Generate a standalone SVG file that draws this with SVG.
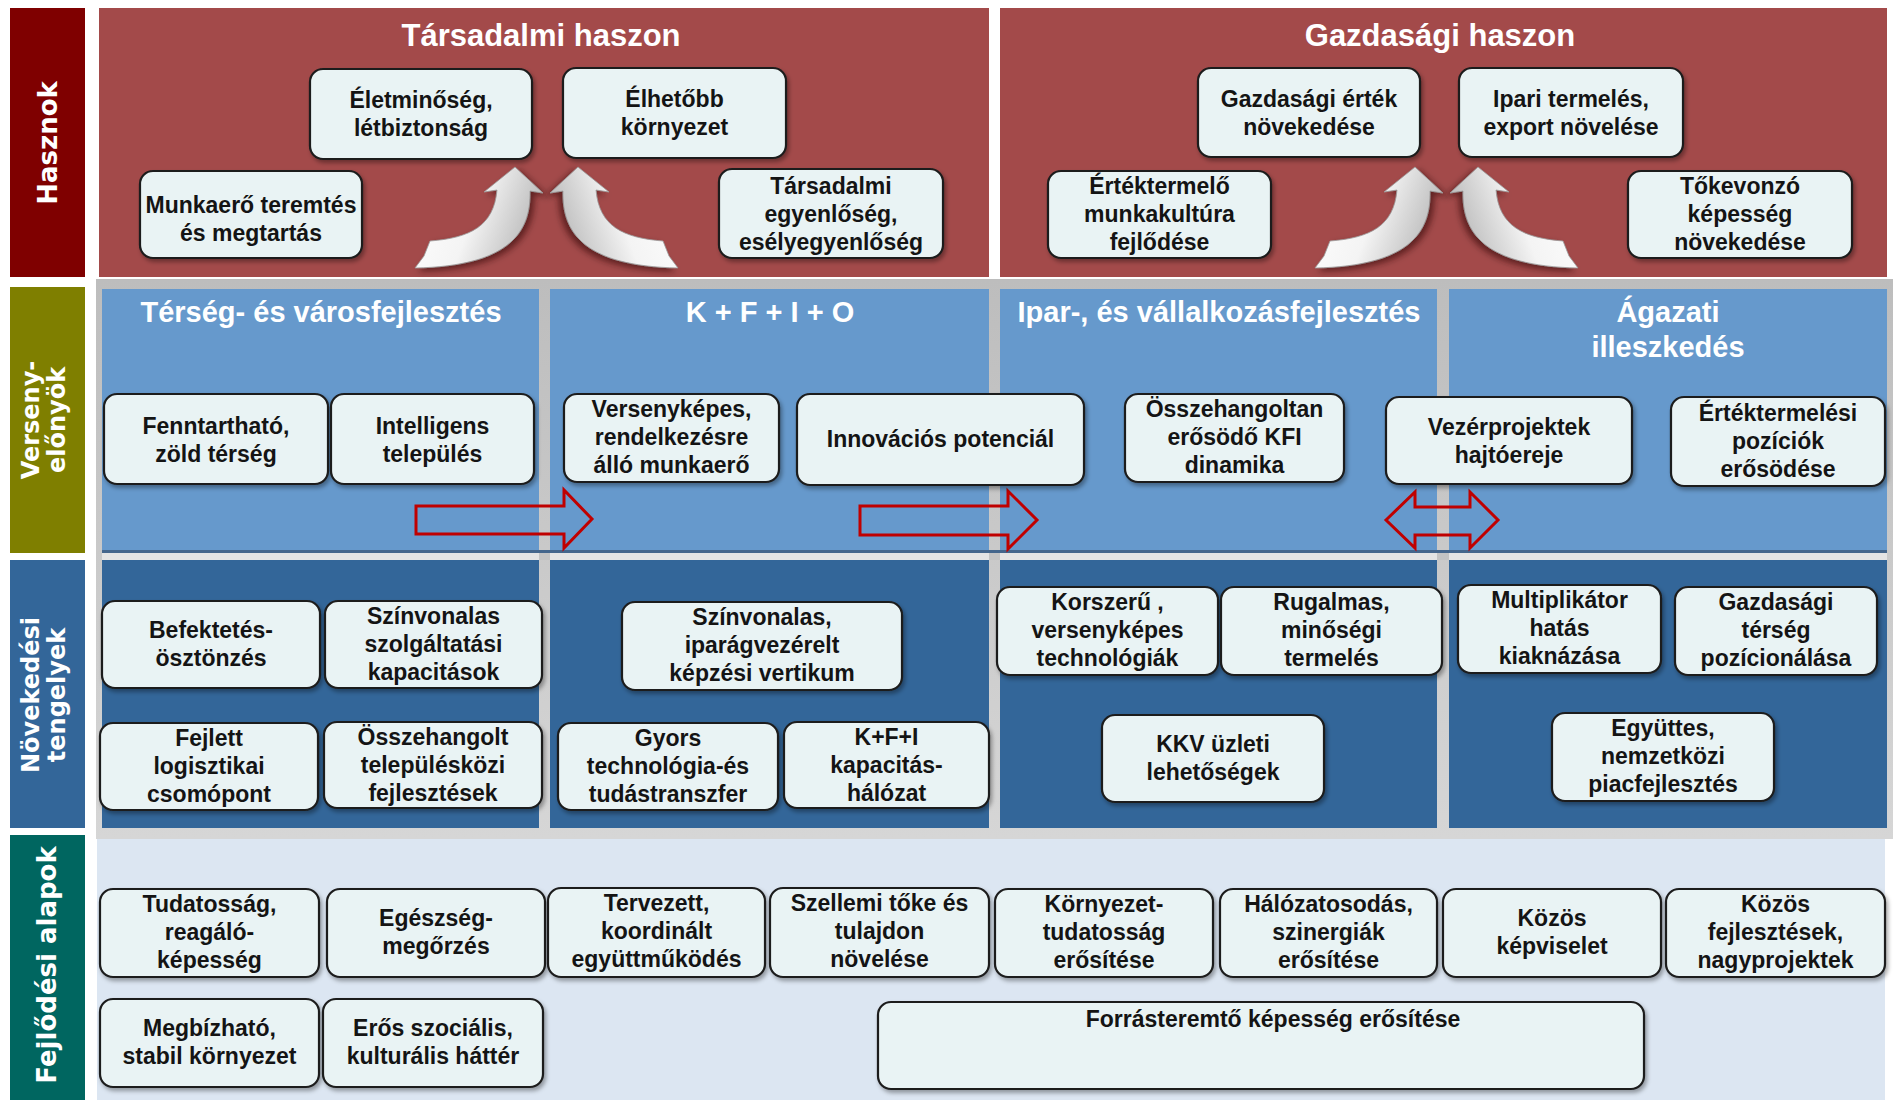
<svg xmlns="http://www.w3.org/2000/svg" width="1896" height="1100" viewBox="0 0 1896 1100">
<defs>
<style>
.lab{font-family:"DejaVu Sans",sans-serif;font-weight:bold;fill:#fff;}
.ttl{font-family:"Liberation Sans",Arial,sans-serif;font-weight:bold;fill:#fff;text-anchor:middle;}
.nt{font-family:"Liberation Sans",Arial,sans-serif;font-weight:bold;font-size:23px;fill:#141414;text-anchor:middle;}
.box{fill:#E9F3F4;stroke:#1c1c1c;stroke-width:2.2;filter:url(#sh);}
.blk{fill:none;stroke:#C00000;stroke-width:3;stroke-linejoin:miter;}
.carr{fill:url(#ag);stroke:#9a9a9a;stroke-width:0.8;filter:url(#ash);}
</style>
<filter id="sh" x="-10%" y="-10%" width="130%" height="140%">
<feDropShadow dx="2" dy="3" stdDeviation="2" flood-color="#000" flood-opacity="0.35"/>
</filter>
<filter id="ash" x="-30%" y="-30%" width="160%" height="160%">
<feDropShadow dx="4" dy="3" stdDeviation="3" flood-color="#2a0000" flood-opacity="0.55"/>
</filter>
<linearGradient id="ag" x1="0" y1="0" x2="1" y2="0.3">
<stop offset="0" stop-color="#ffffff"/>
<stop offset="0.55" stop-color="#f4f4f4"/>
<stop offset="1" stop-color="#bdbdbd"/>
</linearGradient>
<linearGradient id="topsh" x1="0" y1="0" x2="0" y2="1">
<stop offset="0" stop-color="#bdbdbd"/>
<stop offset="1" stop-color="#d6d6d6"/>
</linearGradient>
</defs>

<g id="backgrounds">
<rect x="99" y="8" width="890" height="269" fill="#A34A4A"/>
<rect x="1000" y="8" width="887" height="269" fill="#A34A4A"/>
<rect x="96" y="279" width="1797" height="560" fill="url(#topsh)"/>
<rect x="102" y="289" width="437" height="264" fill="#6699CC"/>
<rect x="550" y="289" width="439" height="264" fill="#6699CC"/>
<rect x="1000" y="289" width="437" height="264" fill="#6699CC"/>
<rect x="1449" y="289" width="438" height="264" fill="#6699CC"/>
<rect x="102" y="550" width="1785" height="3" fill="#44668C"/>
<rect x="102" y="553" width="1785" height="7" fill="#E4E4E4"/>
<rect x="539" y="553" width="11" height="7" fill="#C4C4C4"/>
<rect x="989" y="553" width="11" height="7" fill="#C4C4C4"/>
<rect x="1437" y="553" width="12" height="7" fill="#C4C4C4"/>
<rect x="102" y="560" width="437" height="268" fill="#336699"/>
<rect x="550" y="560" width="439" height="268" fill="#336699"/>
<rect x="1000" y="560" width="437" height="268" fill="#336699"/>
<rect x="1449" y="560" width="438" height="268" fill="#336699"/>
<rect x="97" y="839" width="1788" height="261" fill="#DCE6F2"/>
</g>

<g id="label-hasznok">
<rect x="10" y="8" width="75" height="269" fill="#7F0000"/>
<text class="lab" font-size="26" text-anchor="middle" transform="translate(57,143) rotate(-90)">Hasznok</text>
</g>
<g id="label-verseny">
<rect x="10" y="287" width="75" height="266" fill="#7F7F00"/>
<text class="lab" font-size="24" text-anchor="middle" transform="translate(39,420) rotate(-90)">Verseny-</text>
<text class="lab" font-size="24" text-anchor="middle" transform="translate(65,420) rotate(-90)">előnyök</text>
</g>
<g id="label-novekedesi">
<rect x="10" y="560" width="75" height="268" fill="#336699"/>
<text class="lab" font-size="24" text-anchor="middle" transform="translate(39,695) rotate(-90)">Növekedési</text>
<text class="lab" font-size="24" text-anchor="middle" transform="translate(65,695) rotate(-90)">tengelyek</text>
</g>
<g id="label-fejlodesi">
<rect x="10" y="835" width="75" height="265" fill="#006660"/>
<text class="lab" font-size="26" text-anchor="middle" transform="translate(56,965) rotate(-90)">Fejlődési alapok</text>
</g>

<g id="titles">
<text class="ttl" font-size="31" x="541" y="46">Társadalmi haszon</text>
<text class="ttl" font-size="31" x="1440" y="46">Gazdasági haszon</text>
<text class="ttl" font-size="29" x="321" y="322">Térség- és városfejlesztés</text>
<text class="ttl" font-size="29" x="770" y="322">K + F + I + O</text>
<text class="ttl" font-size="29" x="1219" y="322">Ipar-, és vállalkozásfejlesztés</text>
<text class="ttl" font-size="29" x="1668" y="322">Ágazati</text>
<text class="ttl" font-size="29" x="1668" y="357">illeszkedés</text>
</g>

<g id="connectors">
<path class="carr" d="M515,167 L543,193 L530,191 C531,232 510,266 415,268 L424,256 L430,241 C470,238 494,226 497,190 L484,192 Z"/>
<path class="carr" transform="matrix(-1,0,0,1,1093,0)" d="M515,167 L543,193 L530,191 C531,232 510,266 415,268 L424,256 L430,241 C470,238 494,226 497,190 L484,192 Z"/>
<path class="carr" transform="translate(900,0)" d="M515,167 L543,193 L530,191 C531,232 510,266 415,268 L424,256 L430,241 C470,238 494,226 497,190 L484,192 Z"/>
<path class="carr" transform="matrix(-1,0,0,1,1993,0)" d="M515,167 L543,193 L530,191 C531,232 510,266 415,268 L424,256 L430,241 C470,238 494,226 497,190 L484,192 Z"/>
<path class="blk" d="M416,506 L564,506 L564,490 L592,519 L564,548 L564,534 L416,534 Z"/>
<path class="blk" d="M860,506 L1008,506 L1008,491 L1037,520 L1008,549 L1008,535 L860,535 Z"/>
<path class="blk" d="M1386,520 L1415,492 L1415,507 L1470,507 L1470,492 L1498,520 L1470,548 L1470,535 L1415,535 L1415,548 Z"/>
</g>

<g id="n-eletminoseg"><rect class="box" x="310" y="69" width="222" height="90" rx="13"/>
<text class="nt" x="421" y="108">Életminőség,</text><text class="nt" x="421" y="136">létbiztonság</text></g>
<g id="n-elhetobb"><rect class="box" x="563" y="68" width="223" height="90" rx="13"/>
<text class="nt" x="674.5" y="107">Élhetőbb</text><text class="nt" x="674.5" y="135">környezet</text></g>
<g id="n-munkaero"><rect class="box" x="140" y="171" width="222" height="87" rx="13"/>
<text class="nt" x="251" y="213">Munkaerő teremtés</text><text class="nt" x="251" y="241">és megtartás</text></g>
<g id="n-tarsadalmi-egyenloseg"><rect class="box" x="719" y="169" width="224" height="89" rx="13"/>
<text class="nt" x="831" y="194">Társadalmi</text><text class="nt" x="831" y="222">egyenlőség,</text><text class="nt" x="831" y="250">esélyegyenlőség</text></g>
<g id="n-gazdasagi-ertek"><rect class="box" x="1198" y="68" width="222" height="89" rx="13"/>
<text class="nt" x="1309" y="107">Gazdasági érték</text><text class="nt" x="1309" y="135">növekedése</text></g>
<g id="n-ipari"><rect class="box" x="1459" y="68" width="224" height="89" rx="13"/>
<text class="nt" x="1571" y="107">Ipari termelés,</text><text class="nt" x="1571" y="135">export növelése</text></g>
<g id="n-ertektermelo"><rect class="box" x="1048" y="171" width="223" height="87" rx="13"/>
<text class="nt" x="1159.5" y="194">Értéktermelő</text><text class="nt" x="1159.5" y="222">munkakultúra</text><text class="nt" x="1159.5" y="250">fejlődése</text></g>
<g id="n-tokevonzo"><rect class="box" x="1628" y="171" width="224" height="87" rx="13"/>
<text class="nt" x="1740" y="194">Tőkevonzó</text><text class="nt" x="1740" y="222">képesség</text><text class="nt" x="1740" y="250">növekedése</text></g>

<g id="v-fenntarthato"><rect class="box" x="104" y="394" width="224" height="90" rx="13"/>
<text class="nt" x="216" y="434">Fenntartható,</text><text class="nt" x="216" y="462">zöld térség</text></g>
<g id="v-intelligens"><rect class="box" x="331" y="394" width="203" height="90" rx="13"/>
<text class="nt" x="432.5" y="434">Intelligens</text><text class="nt" x="432.5" y="462">település</text></g>
<g id="v-versenykepes"><rect class="box" x="564" y="394" width="215" height="88" rx="13"/>
<text class="nt" x="671.5" y="417">Versenyképes,</text><text class="nt" x="671.5" y="445">rendelkezésre</text><text class="nt" x="671.5" y="473">álló munkaerő</text></g>
<g id="v-innovacios"><rect class="box" x="797" y="394" width="287" height="91" rx="13"/>
<text class="nt" x="940.5" y="447">Innovációs potenciál</text></g>
<g id="v-osszehangoltan"><rect class="box" x="1125" y="394" width="219" height="88" rx="13"/>
<text class="nt" x="1234.5" y="417">Összehangoltan</text><text class="nt" x="1234.5" y="445">erősödő KFI</text><text class="nt" x="1234.5" y="473">dinamika</text></g>
<g id="v-vezerprojektek"><rect class="box" x="1386" y="397" width="246" height="87" rx="13"/>
<text class="nt" x="1509" y="435">Vezérprojektek</text><text class="nt" x="1509" y="463">hajtóereje</text></g>
<g id="v-ertektermelesi"><rect class="box" x="1671" y="397" width="214" height="89" rx="13"/>
<text class="nt" x="1778" y="421">Értéktermelési</text><text class="nt" x="1778" y="449">pozíciók</text><text class="nt" x="1778" y="477">erősödése</text></g>

<g id="g-befektetes"><rect class="box" x="102" y="601" width="218" height="87" rx="13"/>
<text class="nt" x="211" y="638">Befektetés-</text><text class="nt" x="211" y="666">ösztönzés</text></g>
<g id="g-szinvonalas-szolg"><rect class="box" x="325" y="601" width="217" height="87" rx="13"/>
<text class="nt" x="433.5" y="624">Színvonalas</text><text class="nt" x="433.5" y="652">szolgáltatási</text><text class="nt" x="433.5" y="680">kapacitások</text></g>
<g id="g-szinvonalas-kepzesi"><rect class="box" x="622" y="602" width="280" height="88" rx="13"/>
<text class="nt" x="762" y="625">Színvonalas,</text><text class="nt" x="762" y="653">iparágvezérelt</text><text class="nt" x="762" y="681">képzési vertikum</text></g>
<g id="g-fejlett"><rect class="box" x="100" y="723" width="218" height="87" rx="13"/>
<text class="nt" x="209" y="746">Fejlett</text><text class="nt" x="209" y="774">logisztikai</text><text class="nt" x="209" y="802">csomópont</text></g>
<g id="g-osszehangolt"><rect class="box" x="324" y="722" width="218" height="86" rx="13"/>
<text class="nt" x="433" y="745">Összehangolt</text><text class="nt" x="433" y="773">településközi</text><text class="nt" x="433" y="801">fejlesztések</text></g>
<g id="g-gyors"><rect class="box" x="558" y="723" width="220" height="87" rx="13"/>
<text class="nt" x="668" y="746">Gyors</text><text class="nt" x="668" y="774">technológia-és</text><text class="nt" x="668" y="802">tudástranszfer</text></g>
<g id="g-kfi"><rect class="box" x="784" y="722" width="205" height="86" rx="13"/>
<text class="nt" x="886.5" y="745">K+F+I</text><text class="nt" x="886.5" y="773">kapacitás-</text><text class="nt" x="886.5" y="801">hálózat</text></g>
<g id="g-korszeru"><rect class="box" x="997" y="587" width="221" height="88" rx="13"/>
<text class="nt" x="1107.5" y="610">Korszerű ,</text><text class="nt" x="1107.5" y="638">versenyképes</text><text class="nt" x="1107.5" y="666">technológiák</text></g>
<g id="g-rugalmas"><rect class="box" x="1221" y="587" width="221" height="88" rx="13"/>
<text class="nt" x="1331.5" y="610">Rugalmas,</text><text class="nt" x="1331.5" y="638">minőségi</text><text class="nt" x="1331.5" y="666">termelés</text></g>
<g id="g-kkv"><rect class="box" x="1102" y="715" width="222" height="87" rx="13"/>
<text class="nt" x="1213" y="752">KKV üzleti</text><text class="nt" x="1213" y="780">lehetőségek</text></g>
<g id="g-multiplikator"><rect class="box" x="1458" y="585" width="203" height="88" rx="13"/>
<text class="nt" x="1559.5" y="608">Multiplikátor</text><text class="nt" x="1559.5" y="636">hatás</text><text class="nt" x="1559.5" y="664">kiaknázása</text></g>
<g id="g-gazdasagi-terseg"><rect class="box" x="1675" y="587" width="202" height="88" rx="13"/>
<text class="nt" x="1776" y="610">Gazdasági</text><text class="nt" x="1776" y="638">térség</text><text class="nt" x="1776" y="666">pozícionálása</text></g>
<g id="g-egyuttes"><rect class="box" x="1552" y="713" width="222" height="88" rx="13"/>
<text class="nt" x="1663" y="736">Együttes,</text><text class="nt" x="1663" y="764">nemzetközi</text><text class="nt" x="1663" y="792">piacfejlesztés</text></g>

<g id="f-tudatossag"><rect class="box" x="100" y="889" width="219" height="88" rx="13"/>
<text class="nt" x="209.5" y="912">Tudatosság,</text><text class="nt" x="209.5" y="940">reagáló-</text><text class="nt" x="209.5" y="968">képesség</text></g>
<g id="f-egeszseg"><rect class="box" x="327" y="889" width="218" height="88" rx="13"/>
<text class="nt" x="436" y="926">Egészség-</text><text class="nt" x="436" y="954">megőrzés</text></g>
<g id="f-tervezett"><rect class="box" x="548" y="888" width="217" height="89" rx="13"/>
<text class="nt" x="656.5" y="911">Tervezett,</text><text class="nt" x="656.5" y="939">koordinált</text><text class="nt" x="656.5" y="967">együttműködés</text></g>
<g id="f-szellemi"><rect class="box" x="770" y="888" width="219" height="89" rx="13"/>
<text class="nt" x="879.5" y="911">Szellemi tőke és</text><text class="nt" x="879.5" y="939">tulajdon</text><text class="nt" x="879.5" y="967">növelése</text></g>
<g id="f-kornyezet"><rect class="box" x="995" y="889" width="218" height="88" rx="13"/>
<text class="nt" x="1104" y="912">Környezet-</text><text class="nt" x="1104" y="940">tudatosság</text><text class="nt" x="1104" y="968">erősítése</text></g>
<g id="f-halozatosodas"><rect class="box" x="1220" y="889" width="217" height="88" rx="13"/>
<text class="nt" x="1328.5" y="912">Hálózatosodás,</text><text class="nt" x="1328.5" y="940">szinergiák</text><text class="nt" x="1328.5" y="968">erősítése</text></g>
<g id="f-kozos-kepviselet"><rect class="box" x="1443" y="889" width="218" height="88" rx="13"/>
<text class="nt" x="1552" y="926">Közös</text><text class="nt" x="1552" y="954">képviselet</text></g>
<g id="f-kozos-fejlesztesek"><rect class="box" x="1666" y="889" width="219" height="88" rx="13"/>
<text class="nt" x="1775.5" y="912">Közös</text><text class="nt" x="1775.5" y="940">fejlesztések,</text><text class="nt" x="1775.5" y="968">nagyprojektek</text></g>
<g id="f-megbizhato"><rect class="box" x="100" y="999" width="219" height="88" rx="13"/>
<text class="nt" x="209.5" y="1036">Megbízható,</text><text class="nt" x="209.5" y="1064">stabil környezet</text></g>
<g id="f-eros-szocialis"><rect class="box" x="323" y="999" width="220" height="88" rx="13"/>
<text class="nt" x="433" y="1036">Erős szociális,</text><text class="nt" x="433" y="1064">kulturális háttér</text></g>
<g id="f-forrasteremto"><rect class="box" x="878" y="1002" width="766" height="87" rx="13"/>
<text class="nt" x="1273" y="1027">Forrásteremtő képesség erősítése</text></g>
</svg>
